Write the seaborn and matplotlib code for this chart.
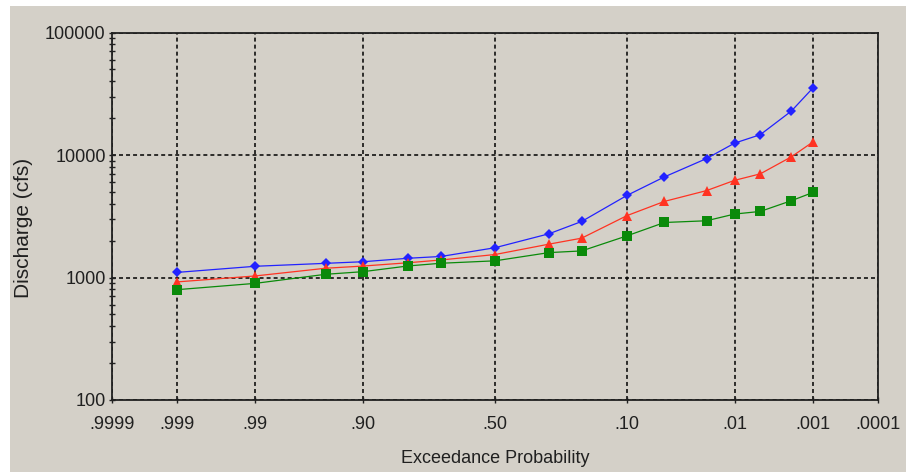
import numpy as np
import pandas as pd
import matplotlib
matplotlib.use("Agg")
import matplotlib.pyplot as plt
from matplotlib.patches import Rectangle
from matplotlib.ticker import FixedLocator, FixedFormatter, LogLocator, NullFormatter, NullLocator
from statistics import NormalDist
import seaborn as sns

# ---- data ----
exceedance = [0.999, 0.99, 0.95, 0.90, 0.80, 0.70, 0.50, 0.30, 0.20, 0.10,
              0.05, 0.02, 0.01, 0.005, 0.002, 0.001]
upper_limit = [1100, 1235, 1305, 1345, 1436, 1485, 1750, 2275, 2867, 4680,
               6625, 9350, 12500, 14650, 22850, 35500]
computed = [920, 1030, 1190, 1240, 1320, 1390, 1540, 1872, 2095, 3200,
            4180, 5120, 6210, 7015, 9670, 12830]
lower_limit = [795, 896, 1062, 1116, 1243, 1307, 1368, 1597, 1648, 2188,
               2812, 2905, 3296, 3462, 4238, 4955]
series_names = ["0.05 Confidence Limit", "Computed Curve", "0.95 Confidence Limit"]
x_ticks = [0.9999, 0.999, 0.99, 0.90, 0.50, 0.10, 0.01, 0.001, 0.0001]
x_tick_labels = [".9999", ".999", ".99", ".90", ".50", ".10", ".01", ".001", ".0001"]
y_ticks = [100, 1000, 10000, 100000]
y_tick_labels = ["100", "1000", "10000", "100000"]

df = pd.concat([
    pd.DataFrame({"p": exceedance, "q": upper_limit, "s": series_names[0]}),
    pd.DataFrame({"p": exceedance, "q": computed, "s": series_names[1]}),
    pd.DataFrame({"p": exceedance, "q": lower_limit, "s": series_names[2]}),
])

BG = "#d4d0c8"
sns.set_style("ticks")
plt.rcParams["font.family"] = ["Liberation Sans", "DejaVu Sans"]

fig = plt.figure(figsize=(9.06, 4.72), dpi=100, facecolor="white")
fig.patches.append(Rectangle((10 / 906, 0), 896 / 906, 466 / 472,
                             transform=fig.transFigure, facecolor=BG,
                             edgecolor="none", zorder=-10))
ax = fig.add_axes([112 / 906, 1 - 400 / 472, (878 - 112) / 906, (400 - 32.5) / 472])
ax.set_facecolor(BG)

palette = {series_names[0]: "#2222ff", series_names[1]: "#ff3322", series_names[2]: "#0a8a0a"}
markers = {series_names[0]: "D", series_names[1]: "^", series_names[2]: "s"}
sizes_ms = {series_names[0]: 5, series_names[1]: 7, series_names[2]: 6.5}

sns.lineplot(data=df, x="p", y="q", hue="s", style="s", palette=palette,
             markers=markers, dashes=False, estimator=None, sort=False,
             legend=False, ax=ax, linewidth=0.9, markersize=6, markeredgewidth=0,
             zorder=3)
for line in ax.get_lines():
    c = line.get_color()
    for name, col in palette.items():
        if matplotlib.colors.to_hex(c) == matplotlib.colors.to_hex(col):
            line.set_markersize(sizes_ms[name])

nd = NormalDist()
_ppf = np.vectorize(nd.inv_cdf, otypes=[float])
_cdf = np.vectorize(nd.cdf, otypes=[float])

def fwd(p):
    p = np.clip(np.asarray(p, dtype=float), 1e-9, 1 - 1e-9)
    return _ppf(p)

def inv(z):
    return _cdf(np.asarray(z, dtype=float))

ax.set_xscale("function", functions=(fwd, inv))
ax.set_yscale("log")
ax.set_xlim(0.9999, 0.0001)
ax.set_ylim(100, 100000)

ax.xaxis.set_major_locator(FixedLocator(x_ticks))
ax.xaxis.set_major_formatter(FixedFormatter(x_tick_labels))
ax.xaxis.set_minor_locator(NullLocator())
ax.yaxis.set_major_locator(FixedLocator(y_ticks))
ax.yaxis.set_major_formatter(FixedFormatter(y_tick_labels))
ax.yaxis.set_minor_locator(LogLocator(base=10, subs=np.arange(2, 10), numticks=20))
ax.yaxis.set_minor_formatter(NullFormatter())

ax.grid(True, which="major", color="black", linestyle=(0, (2.6, 2.0)), linewidth=1.1)
ax.set_axisbelow(True)

for sp in ax.spines.values():
    sp.set_visible(True)
    sp.set_color("#202020")
    sp.set_linewidth(1.3)

ax.tick_params(axis="x", which="major", direction="inout", length=5, width=1,
               pad=9, labelsize=13, colors="#202020")
ax.tick_params(axis="y", which="major", direction="inout", length=5, width=1,
               pad=2, labelsize=13, colors="#202020")
ax.tick_params(axis="y", which="minor", direction="inout", length=5, width=1,
               colors="#202020")

ax.set_xlabel("Exceedance Probability", fontsize=13, labelpad=12, color="#202020")
ax.set_ylabel("Discharge (cfs)", fontsize=15, color="#202020")
ax.yaxis.set_label_coords(-0.103, 0.468)

fig.savefig("out.png", dpi=100, facecolor=fig.get_facecolor())
